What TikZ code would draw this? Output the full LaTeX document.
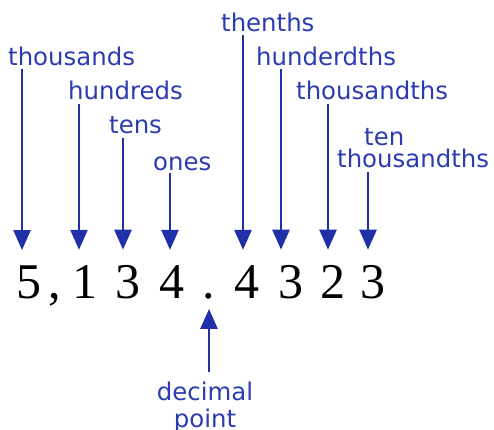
\documentclass[tikz,border=0pt]{standalone}
\usepackage{fontspec}
\setmainfont{DejaVu Sans}
\newfontfamily\digitfont{Liberation Serif}
\usepackage{tikz}
\usetikzlibrary{arrows.meta}
\definecolor{labelblue}{HTML}{2B3BB0}
\definecolor{arrowblue}{HTML}{1F30A8}

\begin{document}
\begin{tikzpicture}[x=1pt,y=-1pt,
  lbl/.style={anchor=base west,inner sep=0pt,text=labelblue,font=\fontsize{24.4}{22}\selectfont},
  dig/.style={anchor=base,inner sep=0pt,font=\digitfont\fontsize{50}{50}\selectfont},
  arr/.style={arrowblue,line width=2.6pt,-{Triangle[width=17pt,length=20pt]}}]
  \useasboundingbox (0,0) rectangle (494,429);
  % the number
  \node[dig] (thou) at (29,298) {5};
  \node[dig] (comma) at (55,298) {,};
  \node[dig] (hund) at (85,298) {1};
  \node[dig] (tens) at (128,298) {3};
  \node[dig] (ones) at (172,298) {4};
  \node[dig] (dot) at (209,298) {.};
  \node[dig] (tnth) at (247,298) {4};
  \node[dig] (hdth) at (291,298) {3};
  \node[dig] (thth) at (333,298) {2};
  \node[dig] (ttth) at (373,298) {3};
  % place names
  \node[lbl] (l-thou) at (8,65) {thousands};
  \node[lbl] (l-hund) at (68,99) {hundreds};
  \node[lbl] (l-tens) at (109,133) {tens};
  \node[lbl] (l-ones) at (153,170) {ones};
  \node[lbl] (l-tnth) at (221,31) {thenths};
  \node[lbl] (l-hdth) at (256,65) {hunderdths};
  \node[lbl] (l-thth) at (296,99) {thousandths};
  \node[lbl,align=left] (l-ttth) at (337,167) {\hspace*{27pt}ten\\thousandths};
  \node[lbl,anchor=base,align=center,font=\fontsize{24.4}{27}\selectfont] (l-dot) at (205,427) {decimal\\point};
  % arrows
  \coordinate (s-thou) at (22,69);
  \coordinate (s-hund) at (79,104);
  \coordinate (s-tens) at (123,138);
  \coordinate (s-ones) at (170,173);
  \coordinate (s-tnth) at (243,35);
  \coordinate (s-hdth) at (281,69);
  \coordinate (s-thth) at (328,104);
  \coordinate (s-ttth) at (368,172);
  \coordinate (s-dot) at (209,372);
  \draw[arr,shorten >=15pt] (s-thou) -- (s-thou |- thou.north);
  \draw[arr,shorten >=15pt] (s-hund) -- (s-hund |- hund.north);
  \draw[arr,shorten >=15pt] (s-tens) -- (s-tens |- tens.north);
  \draw[arr,shorten >=15pt] (s-ones) -- (s-ones |- ones.north);
  \draw[arr,shorten >=15pt] (s-tnth) -- (s-tnth |- tnth.north);
  \draw[arr,shorten >=15pt] (s-hdth) -- (s-hdth |- hdth.north);
  \draw[arr,shorten >=15pt] (s-thth) -- (s-thth |- thth.north);
  \draw[arr,shorten >=15pt] (s-ttth) -- (s-ttth |- ttth.north);
  \draw[arr,shorten >=10pt] (s-dot) -- (dot.south);
\end{tikzpicture}
\end{document}
